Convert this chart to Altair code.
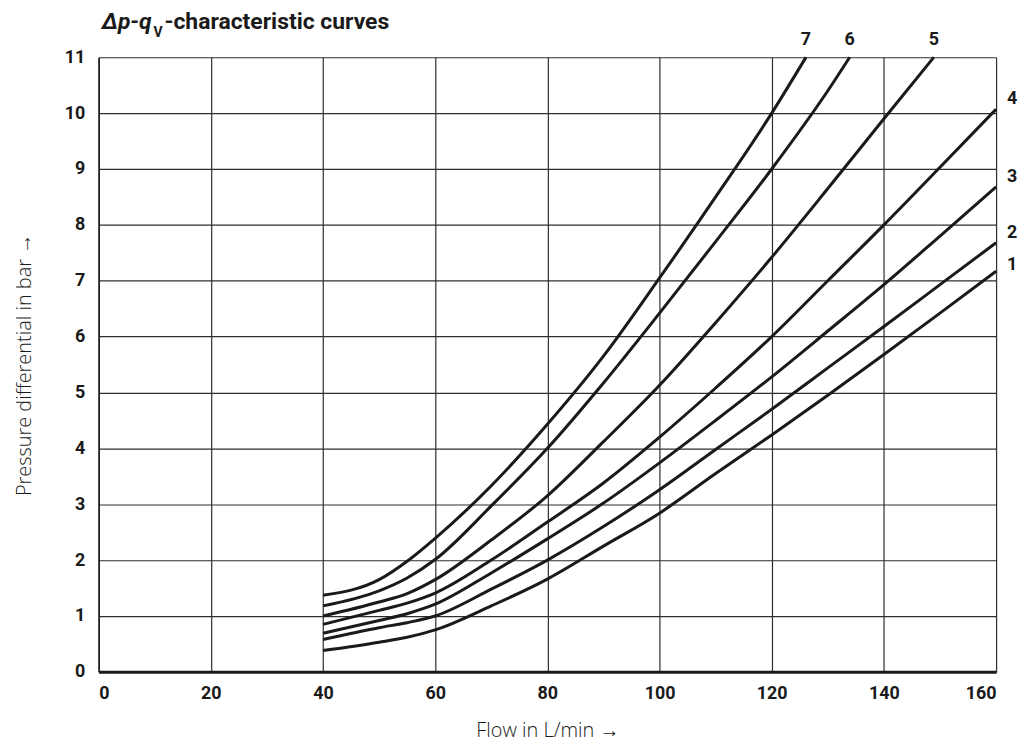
import altair as alt
import pandas as pd

# ---- data ----
flow_common = [40, 50, 55, 60, 70, 80, 90, 100, 110, 120, 130, 140, 150, 160]
dp_curve1 = [0.38, 0.53, 0.62, 0.75, 1.18, 1.66, 2.25, 2.84, 3.55, 4.24, 4.95, 5.68, 6.42, 7.17]
dp_curve2 = [0.58, 0.79, 0.88, 1.00, 1.48, 2.00, 2.60, 3.26, 3.98, 4.70, 5.44, 6.18, 6.93, 7.68]
dp_curve3 = [0.69, 0.92, 1.04, 1.21, 1.77, 2.38, 3.02, 3.74, 4.50, 5.28, 6.10, 6.93, 7.80, 8.68]
dp_curve4 = [0.85, 1.10, 1.23, 1.41, 2.00, 2.68, 3.38, 4.20, 5.08, 6.00, 7.00, 8.00, 9.03, 10.07]

flow_curve5 = [40, 50, 55, 60, 70, 80, 90, 100, 110, 120, 130, 140, 148.9]
dp_curve5 = [1.00, 1.25, 1.40, 1.65, 2.36, 3.15, 4.12, 5.13, 6.25, 7.42, 8.65, 9.90, 11.0]

flow_curve6 = [40, 50, 55, 60, 70, 80, 90, 100, 110, 120, 130, 133.9]
dp_curve6 = [1.18, 1.45, 1.68, 2.01, 2.97, 4.00, 5.17, 6.42, 7.70, 9.00, 10.40, 11.0]

flow_curve7 = [40, 50, 55, 60, 70, 80, 90, 100, 110, 120, 126.1]
dp_curve7 = [1.37, 1.65, 1.98, 2.39, 3.33, 4.43, 5.65, 7.05, 8.50, 10.00, 11.0]

curve_names = ["1", "2", "3", "4", "5", "6", "7"]
x_ticks = [0, 20, 40, 60, 80, 100, 120, 140, 160]
y_ticks = [0, 1, 2, 3, 4, 5, 6, 7, 8, 9, 10, 11]

series = [
    (curve_names[0], flow_common, dp_curve1),
    (curve_names[1], flow_common, dp_curve2),
    (curve_names[2], flow_common, dp_curve3),
    (curve_names[3], flow_common, dp_curve4),
    (curve_names[4], flow_curve5, dp_curve5),
    (curve_names[5], flow_curve6, dp_curve6),
    (curve_names[6], flow_curve7, dp_curve7),
]
rows = []
for name, fl, dp in series:
    for f, v in zip(fl, dp):
        rows.append({"curve": name, "flow": f, "dp": v})
df = pd.DataFrame(rows)
ends = df.groupby("curve").tail(1).reset_index(drop=True)

BOLD_FONT = "Roboto"
LIGHT_FONT = "Open Sans"
INK = "#1a1a1a"
GRID = "#2e2e2e"

x_enc = alt.X(
    "flow:Q",
    scale=alt.Scale(domain=[0, 160], nice=False),
    axis=alt.Axis(
        values=x_ticks, format="d", title="Flow in L/min →", grid=True, ticks=False,
        domainWidth=3, domainColor=INK, labelPadding=13, titlePadding=18,
    ),
)
y_enc = alt.Y(
    "dp:Q",
    scale=alt.Scale(domain=[0, 11], nice=False),
    axis=alt.Axis(
        values=y_ticks, format="d", title="Pressure differential in bar →", grid=True,
        ticks=False, domainWidth=1.5, domainColor=INK, labelPadding=14, titlePadding=30,
    ),
)

lines = alt.Chart(df).mark_line(
    color=INK, strokeWidth=3, interpolate="monotone"
).encode(x=x_enc, y=y_enc, detail="curve:N")

lbl_base = alt.Chart(ends).encode(x="flow:Q", y="dp:Q", text="curve:N")
top_labels = lbl_base.mark_text(
    font=BOLD_FONT, fontWeight="bold", fontSize=18, color=INK, dy=-17, align="center"
).transform_filter(alt.FieldOneOfPredicate(field="curve", oneOf=["5", "6", "7"]))
right_labels = lbl_base.mark_text(
    font=BOLD_FONT, fontWeight="bold", fontSize=18, color=INK, dx=16, dy=-10, align="center"
).transform_filter(alt.FieldOneOfPredicate(field="curve", oneOf=["2", "3", "4"]))
right_label1 = lbl_base.mark_text(
    font=BOLD_FONT, fontWeight="bold", fontSize=18, color=INK, dx=16, dy=-6, align="center"
).transform_filter(alt.FieldEqualPredicate(field="curve", equal="1"))

one = pd.DataFrame({"k": [0]})
t1 = alt.Chart(one).mark_text(
    text="Δp-q", font=BOLD_FONT, fontWeight="bold", fontStyle="italic", fontSize=23,
    color=INK, align="left", baseline="alphabetic"
).encode(x=alt.value(3), y=alt.value(-28))
t2 = alt.Chart(one).mark_text(
    text="V", font=BOLD_FONT, fontWeight="bold", fontSize=14,
    color=INK, align="left", baseline="alphabetic"
).encode(x=alt.value(55), y=alt.value(-20))
t3 = alt.Chart(one).mark_text(
    text="-characteristic curves", font=BOLD_FONT, fontWeight="bold", fontSize=23,
    color=INK, align="left", baseline="alphabetic"
).encode(x=alt.value(66), y=alt.value(-28))

chart = alt.layer(lines, top_labels, right_labels, right_label1, t1, t2, t3).properties(
    width=901, height=617,
    autosize=alt.AutoSizeParams(type="none"),
    padding={"left": 91, "top": 48, "right": 24, "bottom": 70},
).configure_view(stroke=None).configure_axis(
    gridColor=GRID, gridWidth=1.2, gridOpacity=1,
    labelFont=BOLD_FONT, labelFontSize=18, labelFontWeight="bold", labelColor=INK,
    titleFont=LIGHT_FONT, titleFontSize=20, titleFontWeight=300, titleColor="#1a1a1a",
)

chart.save("out.html", embed_options={"renderer": "svg", "actions": False})
